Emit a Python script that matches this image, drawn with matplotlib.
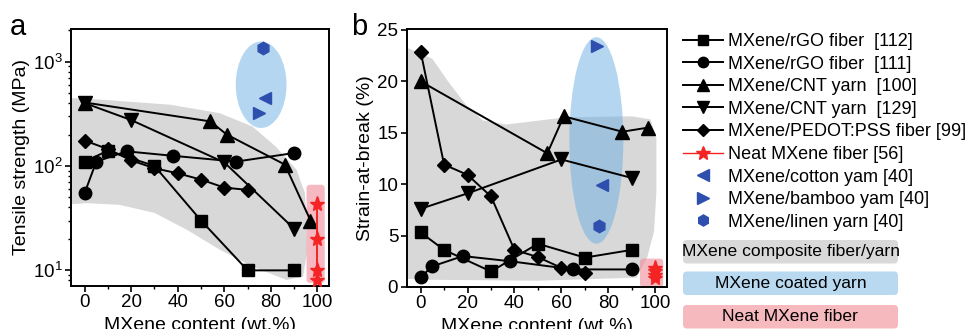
import numpy as np
import matplotlib
matplotlib.use("Agg")
import matplotlib.pyplot as plt
from matplotlib.lines import Line2D
from matplotlib.patches import Ellipse, FancyBboxPatch, Polygon
from matplotlib.ticker import MultipleLocator

plt.rcParams["font.family"] = ["Liberation Sans", "DejaVu Sans"]
plt.rcParams["mathtext.fontset"] = "custom"
plt.rcParams["mathtext.rm"] = "Liberation Sans"
plt.rcParams["mathtext.it"] = "Liberation Sans:italic"

# ----------------------------------------------------------
# Data
# ----------------------------------------------------------

# MXene/rGO fiber [112] (squares)
x_sq = [0, 10, 30, 50, 70, 90]
ts_sq = [110, 140, 100, 30, 10, 10]
sb_sq = [5.3, 3.6, 1.5, 4.2, 2.85, 3.6]

# MXene/rGO fiber [111] (circles)
x_ci = [0, 5, 18, 38, 65, 90]
ts_ci = [55, 110, 138, 125, 110, 133]
sb_ci = [0.95, 2.0, 3.0, 2.5, 1.7, 1.7]

# MXene/CNT yarn [100] (up triangles)
x_tu = [0, 54, 61, 86, 97]
ts_tu = [405, 267, 200, 103, 30]
sb_tu = [20, 13, 16.6, 15.1, 15.5]

# MXene/CNT yarn [129] (down triangles)
x_td = [0, 20, 60, 90]
ts_td = [400, 275, 108, 25]
sb_td = [7.6, 9.1, 12.4, 10.6]

# MXene/PEDOT:PSS fiber [99] (diamonds)
x_di = [0, 10, 20, 30, 40, 50, 60, 70]
ts_di = [175, 145, 113, 95, 85, 74, 62, 59]
sb_di = [22.9, 11.9, 10.9, 8.8, 3.6, 2.9, 1.85, 1.4]

# Neat MXene fiber [56] (stars)
x_st = [100, 100, 100, 100]
ts_st = [43, 20, 10, 8]
sb_st = [1.85, 1.5, 1.2, 0.85]

# coated yarns [40]: cotton, bamboo, linen
x_cotton, ts_cotton, sb_cotton = [77.4], [447], [9.9]
x_bamboo, ts_bamboo, sb_bamboo = [75.0], [320], [23.4]
x_linen_a, x_linen_b, ts_linen, sb_linen = [76.7], [76.2], [1360], [5.9]

LABELS = [
    "MXene/rGO fiber  [112]",
    "MXene/rGO fiber  [111]",
    "MXene/CNT yarn  [100]",
    "MXene/CNT yarn  [129]",
    "MXene/PEDOT:PSS fiber [99]",
    "Neat MXene fiber [56]",
    "MXene/cotton yam [40]",
    "MXene/bamboo yam [40]",
    "MXene/linen yarn [40]",
]
BOX_LABELS = ["MXene composite fiber/yarn", "MXene coated yarn", "Neat MXene fiber"]

# background regions (outline of the shaded areas)
gray_a_x = [-6, 8, 37, 58, 72, 82, 91, 94.6, 95.3, 95.5, 93.8, 86.7, 72, 58, 44, 30, 15, 1, -6]
gray_a_y = [447, 430, 385, 320, 239, 154, 92, 55, 30, 14.7, 8.7, 8.1, 10.9, 15.8, 24.4, 35.5, 42.4, 44, 43]
gray_b_x = [-6, -5, 5, 12, 19.4, 26.5, 36.5, 62, 90, 98, 100.5, 100.5, 99.5, 96.5, 92, 50, 0, -6]
gray_b_y = [23.2, 23.2, 22.2, 19.9, 17.7, 16.2, 15.8, 16.5, 16.6, 16.3, 14.5, 9.2, 5.4, 2.8, 0.9, 0.6, 0.7, 0.8]

GRAY = "#d8d8d8"
BLUE_FILL = "#6aaee3"
PINK_FILL = "#f08a98"
MARK_BLUE = "#2f4fae"
STAR_RED = "#f42424"

# ----------------------------------------------------------
# Helpers
# ----------------------------------------------------------

def to_axes(ax, x, y):
    disp = ax.transData.transform((x, y))
    return ax.transAxes.inverted().transform(disp)


def add_ellipse(ax, x0, x1, y0, y1):
    (ax0, ay0) = to_axes(ax, x0, y0)
    (ax1, ay1) = to_axes(ax, x1, y1)
    ell = Ellipse(((ax0 + ax1) / 2, (ay0 + ay1) / 2), ax1 - ax0, ay1 - ay0,
                  transform=ax.transAxes, facecolor=BLUE_FILL, alpha=0.5,
                  edgecolor="none", zorder=1)
    ax.add_patch(ell)


def add_round_rect(ax, x0, x1, y0, y1):
    (ax0, ay0) = to_axes(ax, x0, y0)
    (ax1, ay1) = to_axes(ax, x1, y1)
    box = FancyBboxPatch((ax0, ay0), ax1 - ax0, ay1 - ay0,
                         boxstyle="round,pad=0,rounding_size=0.012",
                         transform=ax.transAxes, facecolor=PINK_FILL,
                         alpha=0.6, edgecolor="none", zorder=1,
                         mutation_aspect=1.0)
    ax.add_patch(box)


def plot_series(ax, ys):
    kw = dict(color="black", lw=1.4, ms=8, zorder=3)
    ax.plot(x_sq, ys[0], marker="s", **kw)
    ax.plot(x_ci, ys[1], marker="o", ms=9, color="black", lw=1.4, zorder=3)
    ax.plot(x_tu, ys[2], marker="^", ms=9.5, color="black", lw=1.4, zorder=3)
    ax.plot(x_td, ys[3], marker="v", ms=9.5, color="black", lw=1.4, zorder=3)
    ax.plot(x_di, ys[4], marker="D", ms=7.5, color="black", lw=1.4, zorder=3)
    ax.plot(x_st, ys[5], marker="*", ms=11, color=STAR_RED, lw=1.4, zorder=3)


def style_axes(ax):
    for s in ax.spines.values():
        s.set_linewidth(1.4)
    ax.tick_params(which="major", direction="out", length=4, width=1.2,
                   labelsize=13.5, pad=2)
    ax.tick_params(which="minor", direction="out", length=2.5, width=1.0)
    ax.set_xlim(-6, 105)
    ax.set_xticks([0, 20, 40, 60, 80, 100])
    ax.xaxis.set_minor_locator(MultipleLocator(10))
    ax.set_xlabel("MXene content (wt.%)", fontsize=14, labelpad=4)


# ----------------------------------------------------------
# Figure
# ----------------------------------------------------------

fig = plt.figure(figsize=(9.68, 3.29), dpi=100)

ax_a = fig.add_axes([0.073, 0.131, 0.267, 0.781])
ax_b = fig.add_axes([0.420, 0.128, 0.269, 0.784])

# panel a: tensile strength
ax_a.set_yscale("log")
ax_a.set_ylim(7.1, 2050)
style_axes(ax_a)
ax_a.set_ylabel("Tensile strength (MPa)", fontsize=14, labelpad=2)
ax_a.add_patch(Polygon(list(zip(gray_a_x, gray_a_y)), closed=True,
                       facecolor=GRAY, edgecolor="none", zorder=0.5))
add_ellipse(ax_a, 64.9, 86.7, 231, 1554)
add_round_rect(ax_a, 95.3, 103.1, 7.6, 66)
plot_series(ax_a, [ts_sq, ts_ci, ts_tu, ts_td, ts_di, ts_st])
ax_a.plot(x_cotton, ts_cotton, "<", color=MARK_BLUE, ms=9, zorder=4)
ax_a.plot(x_bamboo, ts_bamboo, ">", color=MARK_BLUE, ms=9, zorder=4)
ax_a.plot(x_linen_a, ts_linen, "h", color=MARK_BLUE, ms=9, zorder=4)

# panel b: strain at break
ax_b.set_ylim(0, 25.1)
style_axes(ax_b)
ax_b.set_yticks([0, 5, 10, 15, 20, 25])
ax_b.set_ylabel("Strain-at-break (%)", fontsize=14, labelpad=2)
ax_b.add_patch(Polygon(list(zip(gray_b_x, gray_b_y)), closed=True,
                       facecolor=GRAY, edgecolor="none", zorder=0.5))
add_ellipse(ax_b, 63.4, 86.4, 4.2, 24.3)
add_round_rect(ax_b, 93.5, 103.4, 0.0, 2.75)
plot_series(ax_b, [sb_sq, sb_ci, sb_tu, sb_td, sb_di, sb_st])
ax_b.plot(x_cotton, sb_cotton, "<", color=MARK_BLUE, ms=9, zorder=4)
ax_b.plot(x_bamboo, sb_bamboo, ">", color=MARK_BLUE, ms=9, zorder=4)
ax_b.plot(x_linen_b, sb_linen, "h", color=MARK_BLUE, ms=9, zorder=4)

fig.text(0.010, 0.893, "a", fontsize=21)
fig.text(0.363, 0.893, "b", fontsize=21)

# legend
handles = [
    Line2D([], [], color="black", lw=1.4, marker="s", ms=7),
    Line2D([], [], color="black", lw=1.4, marker="o", ms=7.5),
    Line2D([], [], color="black", lw=1.4, marker="^", ms=8),
    Line2D([], [], color="black", lw=1.4, marker="v", ms=8),
    Line2D([], [], color="black", lw=1.4, marker="D", ms=6.5),
    Line2D([], [], color=STAR_RED, lw=1.0, marker="*", ms=10),
    Line2D([], [], color=MARK_BLUE, lw=0, marker="<", ms=8),
    Line2D([], [], color=MARK_BLUE, lw=0, marker=">", ms=8),
    Line2D([], [], color=MARK_BLUE, lw=0, marker="h", ms=8),
]
fig.legend(handles, LABELS, loc="upper left",
           bbox_to_anchor=(683 / 968, 1 - 33 / 329), frameon=False,
           fontsize=13, handlelength=2.2, handletextpad=0.3,
           labelspacing=0.31, borderpad=0, borderaxespad=0)

# coloured category boxes under the legend
box_colors = ["#d9d9d9", "#b9d9f1", "#f6b9be"]
box_tops = [240, 271.5, 305]
for label, color, top in zip(BOX_LABELS, box_colors, box_tops):
    x0, x1 = 683, 898
    y0 = 329 - (top + 23.5)
    fig.patches.append(FancyBboxPatch(
        (x0 / 100, y0 / 100), (x1 - x0) / 100, 0.235,
        boxstyle="round,pad=0,rounding_size=0.04",
        transform=fig.dpi_scale_trans, facecolor=color, edgecolor="none"))
    fig.text((x0 + x1) / 2 / 968, (y0 + 11.75) / 329, label,
             ha="center", va="center", fontsize=12.6)

fig.savefig("out.png", dpi=100)
